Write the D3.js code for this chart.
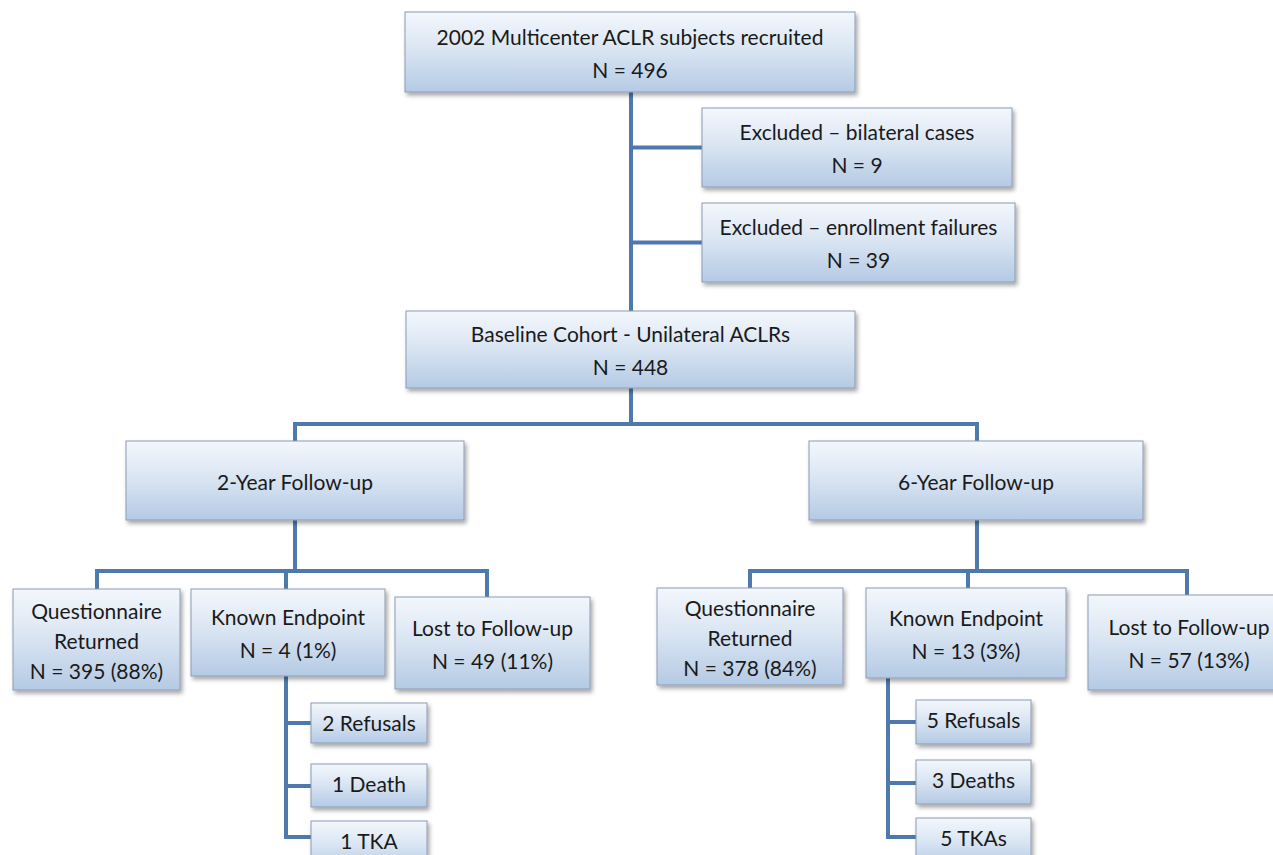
<!DOCTYPE html>
<html>
<head>
<meta charset="utf-8">
<script src="https://cdn.jsdelivr.net/npm/d3@7"></script>
<style>
  html, body { margin: 0; padding: 0; background: #fff; }
  svg { display: block; }
</style>
</head>
<body>
<svg id="flow" width="1273" height="855" viewBox="0 0 1273 855"></svg>
<script>
// ---- data: box ids, labels and parent links ----
const nodeIds = ["top", "ex1", "ex2", "base", "fu2", "fu6",
                 "q2", "k2", "l2", "r2a", "r2b", "r2c",
                 "q6", "k6", "l6", "r6a", "r6b", "r6c"];
const nodeLabels = [
  ["2002 Multicenter ACLR subjects recruited", "N = 496"],
  ["Excluded \u2013 bilateral cases", "N = 9"],
  ["Excluded \u2013 enrollment failures", "N = 39"],
  ["Baseline Cohort - Unilateral ACLRs", "N = 448"],
  ["2-Year Follow-up"],
  ["6-Year Follow-up"],
  ["Questionnaire", "Returned", "N = 395 (88%)"],
  ["Known Endpoint", "N = 4 (1%)"],
  ["Lost to Follow-up", "N = 49 (11%)"],
  ["2 Refusals"], ["1 Death"], ["1 TKA"],
  ["Questionnaire", "Returned", "N = 378 (84%)"],
  ["Known Endpoint", "N = 13 (3%)"],
  ["Lost to Follow-up", "N = 57 (13%)"],
  ["5 Refusals"], ["3 Deaths"], ["5 TKAs"]
];
const nodeParents = [null, "top", "top", "top", "base", "base",
                     "fu2", "fu2", "fu2", "k2", "k2", "k2",
                     "fu6", "fu6", "fu6", "k6", "k6", "k6"];

// ---- layout (pixel boxes) kept apart from the data ----
const boxes = {
  top:  [405, 12, 450, 80],
  ex1:  [702, 108, 310, 79],
  ex2:  [702, 203, 313, 79],
  base: [406, 311, 449, 77],
  fu2:  [126, 441, 338, 79],
  fu6:  [809, 441, 334, 79],
  q2:   [13, 589, 167, 101],
  k2:   [191, 589, 194, 87],
  l2:   [395, 597, 195, 92],
  r2a:  [311, 703, 116, 40],
  r2b:  [311, 764, 116, 43],
  r2c:  [311, 821, 116, 50],
  q6:   [657, 588, 186, 97],
  k6:   [866, 588, 200, 90],
  l6:   [1088, 595, 202, 95],
  r6a:  [916, 700, 115, 44],
  r6b:  [916, 760, 115, 44],
  r6c:  [916, 818, 115, 50]
};
// how each parent connects to its children
const branches = {
  top:  { kind: "side", x: 631, to: "base" },
  base: { kind: "bus", x: 631, y: 424, drops: { fu2: 295, fu6: 977 } },
  fu2:  { kind: "bus", x: 295, y: 571, drops: { q2: 97, k2: 286, l2: 487 } },
  fu6:  { kind: "bus", x: 977, y: 571, drops: { q6: 750, k6: 968, l6: 1187 } },
  k2:   { kind: "side", x: 286, ys: { r2a: 723, r2b: 786, r2c: 837 } },
  k6:   { kind: "side", x: 888, ys: { r6a: 722, r6b: 783, r6c: 837 } }
};

const LINE = "#4e79ad";
const svg = d3.select("#flow");
const defs = svg.append("defs");

const grad = defs.append("linearGradient")
  .attr("id", "boxFill").attr("x1", 0).attr("y1", 0).attr("x2", 0).attr("y2", 1);
grad.append("stop").attr("offset", "0%").attr("stop-color", "#f3f7fc");
grad.append("stop").attr("offset", "45%").attr("stop-color", "#dbe6f3");
grad.append("stop").attr("offset", "100%").attr("stop-color", "#b4cae4");

const shadow = defs.append("filter").attr("id", "shadow")
  .attr("x", "-10%").attr("y", "-10%").attr("width", "130%").attr("height", "140%");
shadow.append("feDropShadow")
  .attr("dx", 2).attr("dy", 3).attr("stdDeviation", 2)
  .attr("flood-color", "#000").attr("flood-opacity", 0.35);

const nodes = nodeIds.map((id, i) => ({ id, lines: nodeLabels[i], parent: nodeParents[i] }));

// ---- connectors ----
const segs = [];
for (const [pid, br] of Object.entries(branches)) {
  const p = boxes[pid];
  const kids = nodes.filter(d => d.parent === pid);
  if (br.kind === "bus") {
    const xs = kids.map(k => br.drops[k.id]);
    segs.push([[br.x, p[1] + p[3]], [br.x, br.y]]);
    segs.push([[d3.min(xs), br.y], [d3.max(xs), br.y]]);
    kids.forEach(k => segs.push([[br.drops[k.id], br.y], [br.drops[k.id], boxes[k.id][1]]]));
  } else {
    // spine with side spurs; the "to" child continues the spine
    const spurs = kids.filter(k => k.id !== br.to);
    const ky = k => br.ys ? br.ys[k.id] : boxes[k.id][1] + boxes[k.id][3] / 2;
    const far = br.to ? boxes[br.to][1] : d3.max(spurs, ky);
    segs.push([[br.x, p[1] + p[3]], [br.x, far]]);
    spurs.forEach(k => segs.push([[br.x, ky(k)], [boxes[k.id][0], ky(k)]]));
  }
}

svg.append("g").attr("class", "links")
  .selectAll("path").data(segs).join("path")
  .attr("d", d3.line())
  .attr("fill", "none")
  .attr("stroke", LINE)
  .attr("stroke-width", 4)
  .attr("stroke-linecap", "square");

// ---- boxes ----
const g = svg.append("g").attr("class", "nodes")
  .selectAll("g").data(nodes).join("g")
  .attr("transform", d => `translate(${boxes[d.id][0]},${boxes[d.id][1]})`);

g.append("rect")
  .attr("width", d => boxes[d.id][2])
  .attr("height", d => boxes[d.id][3])
  .attr("fill", "url(#boxFill)")
  .attr("stroke", "#8c9cb4")
  .attr("stroke-width", 1)
  .attr("filter", "url(#shadow)");

g.each(function (d) {
  const [, , w, h] = boxes[d.id];
  const n = d.lines.length;
  const step = n === 3 ? 30 : 33;
  const small = d.id.startsWith("r");
  const cy = small ? 21 : h / 2 + 2;
  d3.select(this).selectAll("text").data(d.lines).join("text")
    .attr("x", w / 2)
    .attr("y", (t, i) => cy + (i - (n - 1) / 2) * step)
    .attr("dy", "0.35em")
    .attr("text-anchor", "middle")
    .attr("fill", "#1a1a1a")
    .style("font", "21px Lato, 'Open Sans', sans-serif")
    .text(t => t);
});
</script>
</body>
</html>
